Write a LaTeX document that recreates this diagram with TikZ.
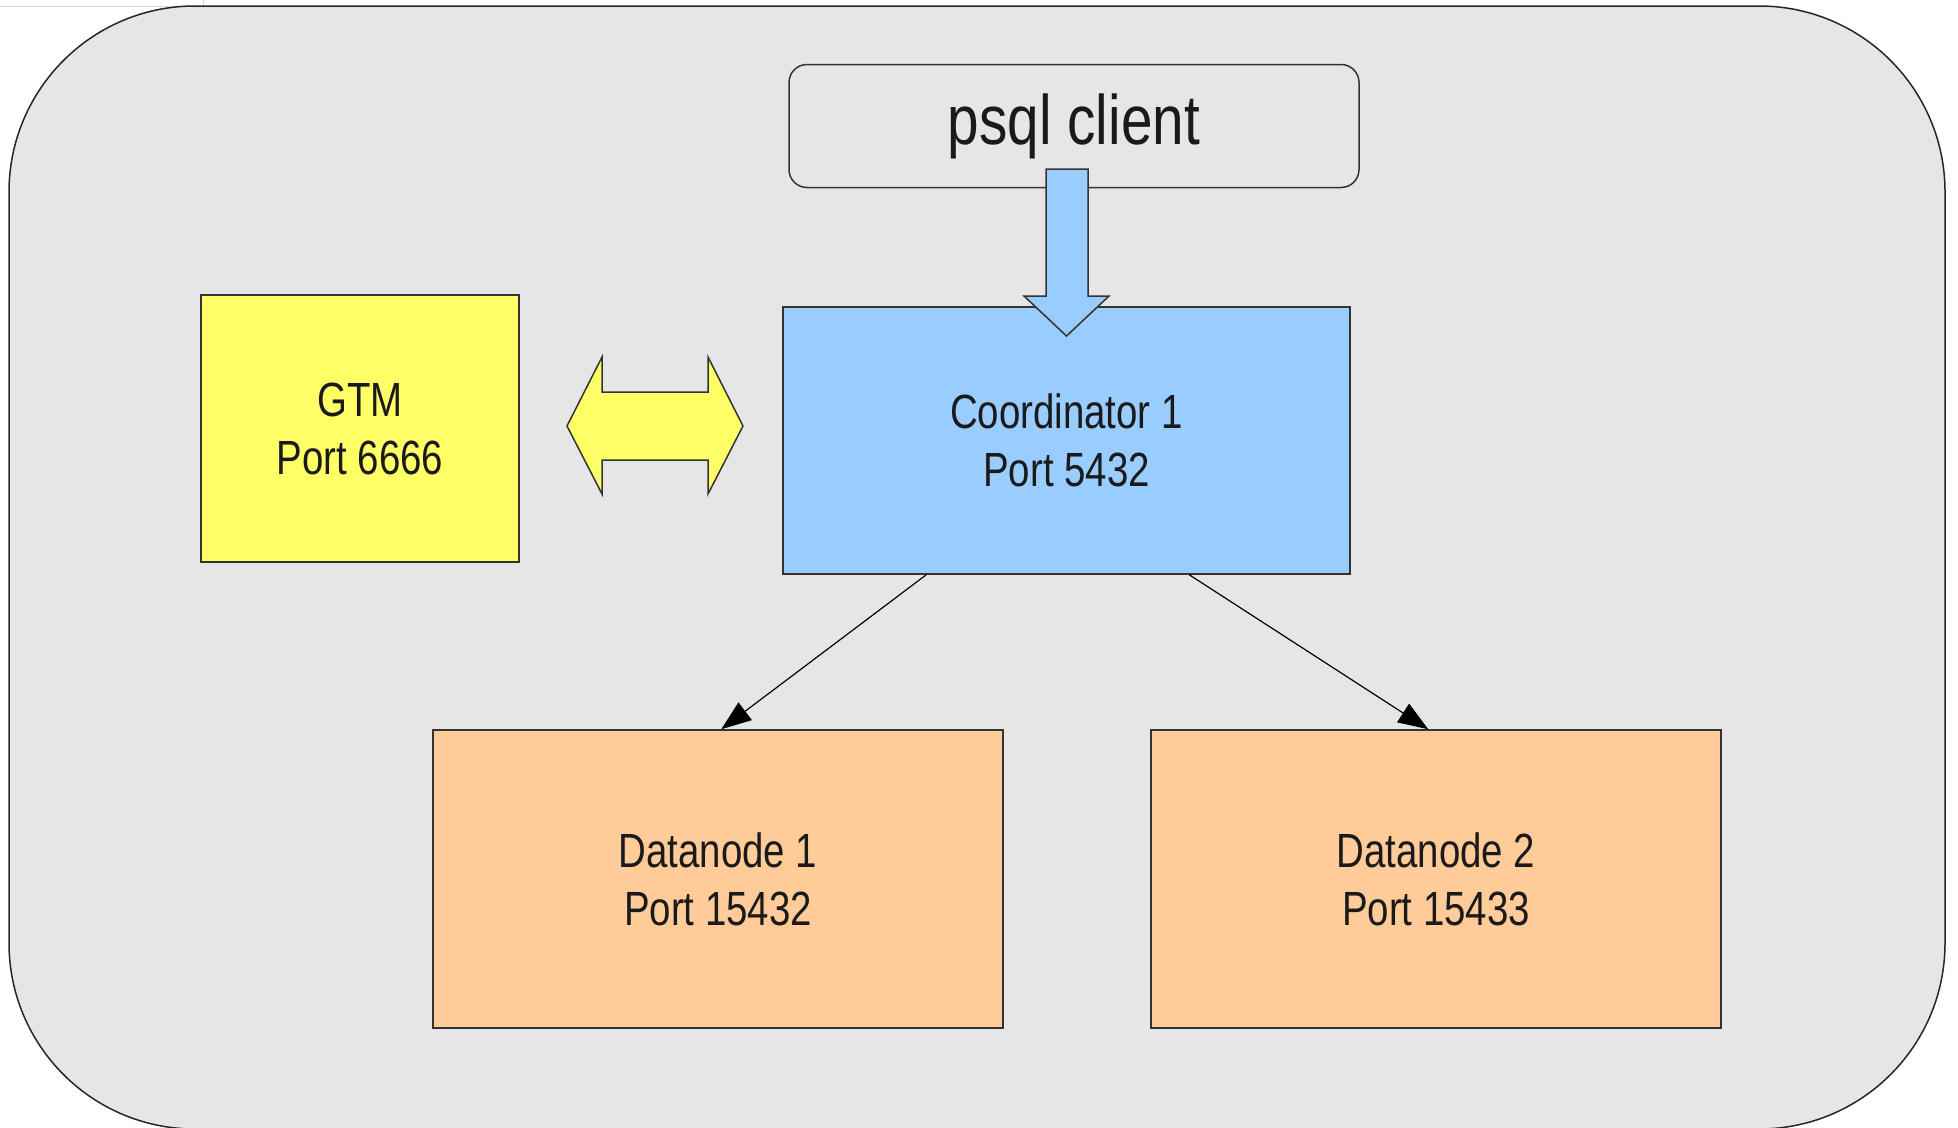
\documentclass[tikz,border=0pt]{standalone}
\usepackage{fontspec}
\setmainfont[FakeStretch=0.80]{Liberation Sans}
\newfontfamily\psqlfont[FakeStretch=0.81]{Liberation Sans}
\usetikzlibrary{arrows.meta}
\definecolor{bgray}{HTML}{E6E6E6}
\definecolor{cblue}{HTML}{99CCFF}
\definecolor{gyellow}{HTML}{FFFF66}
\definecolor{dorange}{HTML}{FFCC99}
\definecolor{txt}{HTML}{1A1A1A}
\definecolor{edge}{HTML}{333333}
\tikzset{
  box/.style={draw=edge, line width=1.5pt, inner sep=0pt, align=center, text=txt,
    font=\fontsize{48}{58}\selectfont},
  conn/.style={draw=black, line width=1.2pt, -{Triangle[length=30pt,width=22pt]}},
  blockarrow/.style={draw=edge, line width=1.5pt, line join=miter}
}
\begin{document}
\begin{tikzpicture}[x=1pt,y=-1pt]
\useasboundingbox (0,0) rectangle (1958,1127);
\clip (0,0) rectangle (1958,1127);
% faint artefact at top left
\draw[black!15, line width=1pt] (0,6) -- (203,6) -- (203,0);
% background panel
\draw[fill=bgray, draw=black!85, line width=1.5pt, rounded corners=186pt] (9,6) rectangle (1945,1129);
% nodes
\node[box, rounded corners=18pt, minimum width=570pt, minimum height=123pt,
  font=\psqlfont\fontsize{70}{84}\selectfont] (psql) at (1074,126) {psql client};
\node[box, fill=cblue, minimum width=567pt, minimum height=267pt] (coord) at (1066.5,440.5) {Coordinator 1\\Port 5432};
\node[box, fill=gyellow, minimum width=318pt, minimum height=267pt] (gtm) at (360,428.5) {GTM\\Port 6666};
\node[box, fill=dorange, minimum width=570pt, minimum height=298pt] (dn1) at (718,879) {Datanode 1\\Port 15432};
\node[box, fill=dorange, minimum width=570pt, minimum height=298pt] (dn2) at (1436,879) {Datanode 2\\Port 15433};
% block arrow psql -> coordinator
\draw[blockarrow, fill=cblue] (1046,169) -- (1088,169) -- (1088,296) -- (1109,296) -- (1066.5,336)
  -- (1024,296) -- (1046,296) -- cycle;
% double block arrow gtm <-> coordinator
\draw[blockarrow, fill=gyellow] (567,426) -- (602,357) -- (602,392) -- (708,392) -- (708,357)
  -- (743,426) -- (708,494) -- (708,460) -- (602,460) -- (602,494) -- cycle;
% connectors
\draw[conn] ([xshift=144pt]coord.south west) -- ([xshift=289pt]dn1.north west);
\draw[conn] ([xshift=407pt]coord.south west) -- ([xshift=278pt]dn2.north west);
\end{tikzpicture}
\end{document}
